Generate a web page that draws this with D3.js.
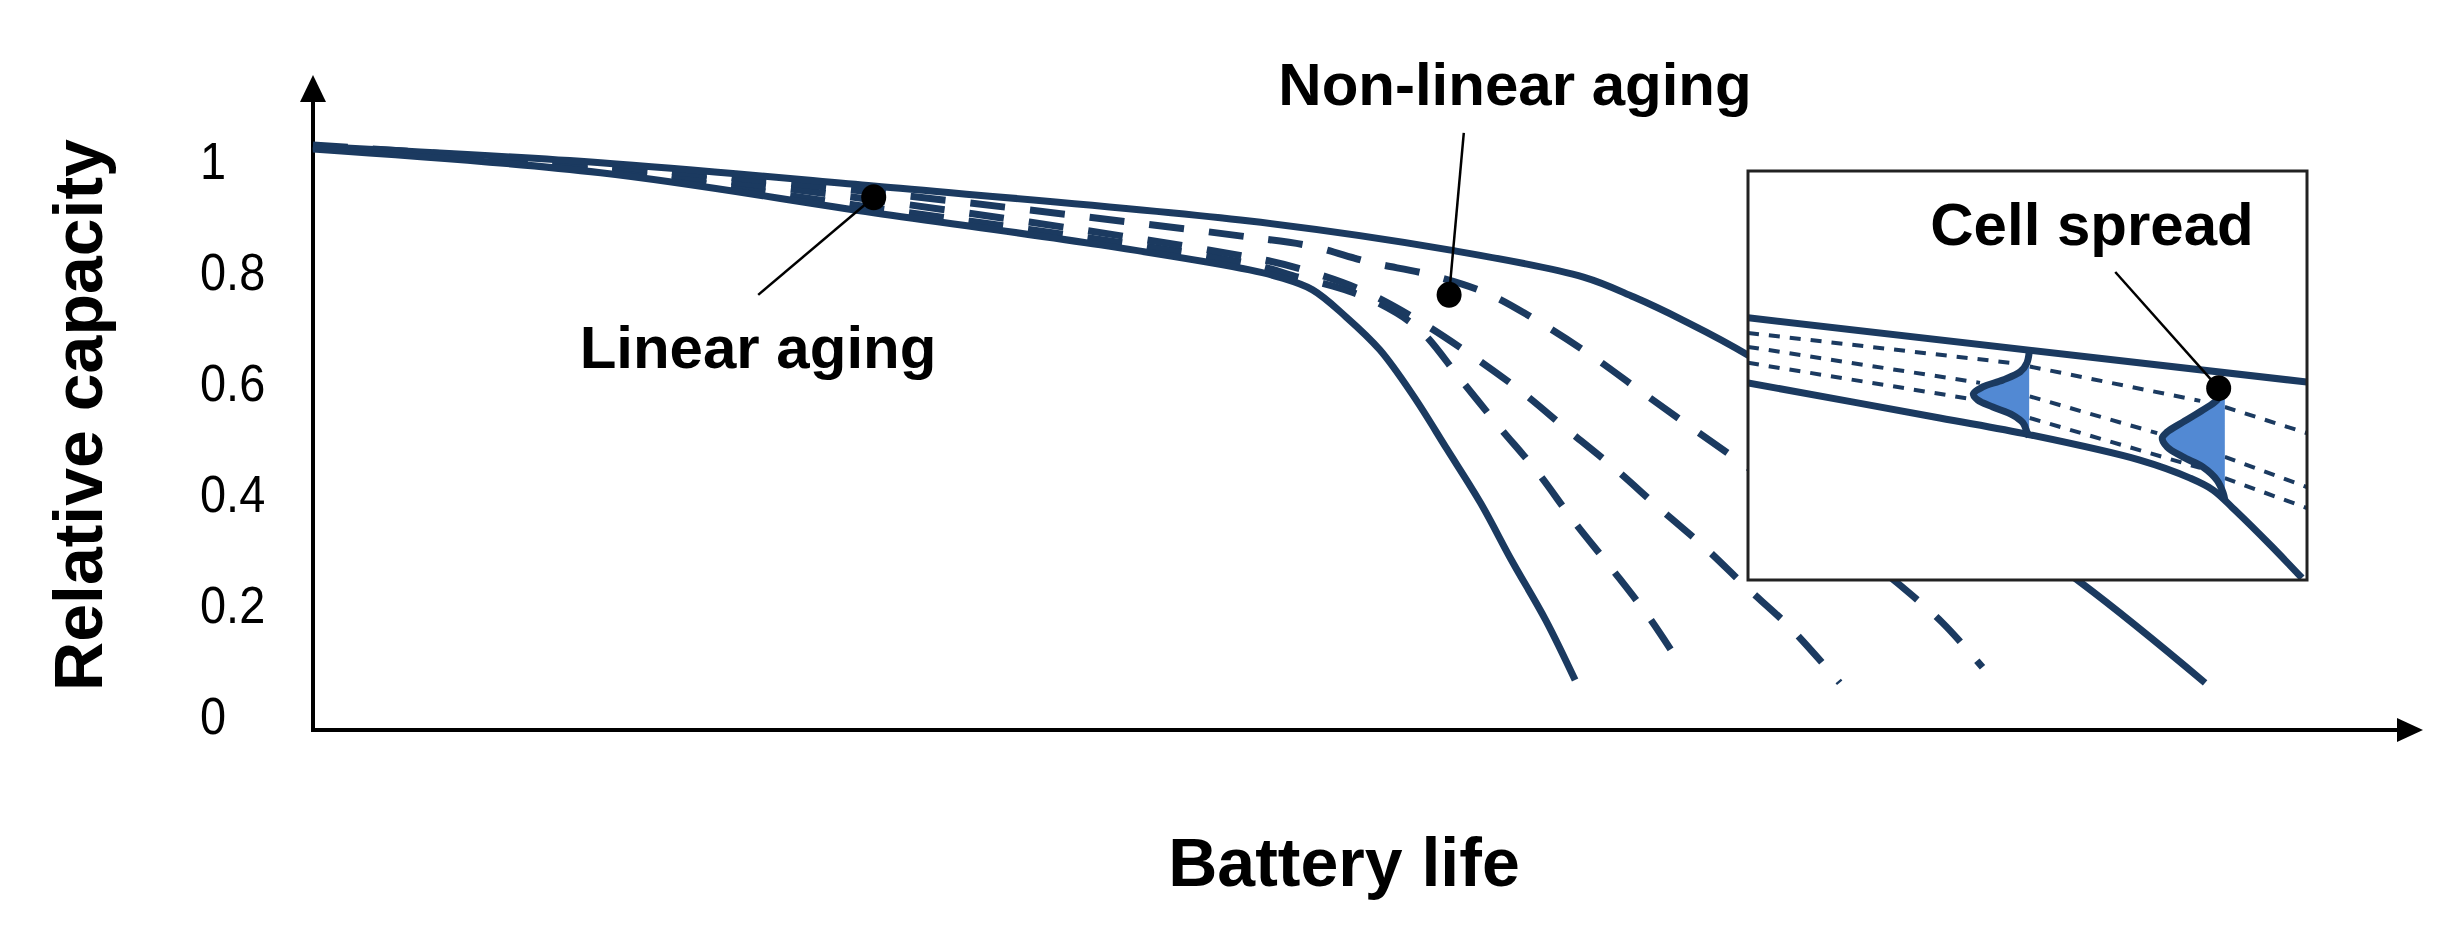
<!DOCTYPE html>
<html>
<head>
<meta charset="utf-8">
<script src="https://cdn.jsdelivr.net/npm/d3@7"></script>
<style>
  body { margin: 0; background: #fff; }
  svg { display: block; }
</style>
</head>
<body>
<script>
'use strict';

(function() {

const width = 2448;
const height = 935;

// ---- data (battery life in arbitrary units 0..100, relative capacity 0..1) ----
const yTickValues = [0, 0.2, 0.4, 0.6, 0.8, 1];
const yTickLabels = ['0', '0.2', '0.4', '0.6', '0.8', '1'];

const upperSolid = [[0, 1.025], [13.7, 0.995], [26.7, 0.953], [44.6, 0.890], [54.1, 0.838],
  [60.5, 0.789], [62.9, 0.753], [65.2, 0.712], [68.3, 0.649], [75.6, 0.465], [84.2, 0.238], [90.1, 0.058]];
const lowerSolid = [[0, 1.020], [13.7, 0.977], [26.7, 0.905], [37.5, 0.847], [44.6, 0.802], [46.0, 0.789],
  [47.6, 0.766], [49.2, 0.717], [50.8, 0.658], [52.4, 0.575], [54.0, 0.479], [55.6, 0.382],
  [57.1, 0.277], [58.7, 0.171], [60.1, 0.063]];
const dashedEarly = [[0, 1.023], [13.7, 0.981], [26.7, 0.914], [44.6, 0.813], [47.0, 0.788], [48.9, 0.769],
  [50.8, 0.741], [52.7, 0.694], [54.6, 0.607], [56.4, 0.523], [58.3, 0.438], [60.0, 0.351],
  [61.9, 0.261], [63.6, 0.177], [65.2, 0.086]];
const dashedMid = [[0, 1.025], [13.7, 0.986], [26.7, 0.928], [44.6, 0.825], [47.0, 0.804], [49.9, 0.766],
  [52.5, 0.714], [55.1, 0.650], [57.5, 0.584], [59.7, 0.515], [61.9, 0.447], [64.1, 0.373],
  [66.3, 0.301], [68.2, 0.232], [70.3, 0.159], [72.7, 0.058]];
const dashedLate = [[0, 1.027], [13.7, 0.990], [26.7, 0.942], [44.6, 0.861], [47.5, 0.845], [50.3, 0.816],
  [53.2, 0.793], [55.9, 0.760], [58.4, 0.708], [60.9, 0.647], [63.2, 0.584], [65.6, 0.519],
  [68.3, 0.447], [71.8, 0.350], [75.1, 0.249], [77.6, 0.166], [79.5, 0.086]];

const linearDot = [26.7, 0.933];
const linearLabelEnd = [21.2, 0.757];
const nonLinearDot = [54.1, 0.757];
const nonLinearLabelEnd = [54.8, 1.049];

// inset (zoomed view, both axes 0..100)
const insetUpper = [[0, 64.1], [100, 48.4]];
const insetLower = [[0, 48.2], [34.3, 39.6], [50.4, 35.5], [70.1, 29.3], [79.1, 24.9],
  [83.2, 22.0], [87.1, 17.1], [93.4, 8.6], [99.1, 0.5]];
const insetDashed = [
  [[0, 60.4], [46.9, 53.1]],
  [[0, 57.0], [41.5, 48.2]],
  [[0, 53.1], [41.1, 44.0]],
  [[50.4, 52.2], [80.9, 43.8]],
  [[50.4, 44.9], [73.2, 35.9]],
  [[50.4, 39.6], [80.9, 27.4]],
  [[85.3, 42.3], [100, 35.9]],
  [[85.3, 30.1], [100, 22.7]],
  [[85.3, 24.9], [100, 17.6]]
];
const spreadEarly = [[50.3, 55.7], [49.9, 53.1], [48.7, 50.9], [45.6, 48.9], [42.0, 47.2], [40.3, 45.5],
  [41.1, 44.0], [43.8, 42.3], [47.4, 40.3], [49.2, 38.4], [49.9, 36.2], [50.3, 35.0]];
const spreadLate = [[84.8, 46.0], [83.9, 44.0], [81.4, 41.6], [77.8, 38.6], [75.0, 36.2], [74.1, 34.7],
  [75.0, 32.5], [77.8, 30.1], [81.4, 27.6], [83.9, 24.4], [85.0, 21.3], [85.3, 19.6]];
const spreadEarlyBase = 50.3;
const spreadLateBase = 85.3;
const cellDot = [84.2, 46.9];
const cellLabelEnd = [65.7, 75.3];

// ---- layout ----
const navy = '#1b3a60';
const fillBlue = '#5289d3';
const font = '"Liberation Sans", Arial, sans-serif';

const x = d3.scaleLinear().domain([0, 100]).range([313, 2413]);
const y = d3.scaleLinear().domain([0, 1]).range([715, 160]);

const inset = { x0: 1748, x1: 2307, y0: 171, y1: 580 };
const ix = d3.scaleLinear().domain([0, 100]).range([inset.x0, inset.x1]);
const iy = d3.scaleLinear().domain([0, 100]).range([inset.y1, inset.y0]);

const axisX = 313, axisY = 730, axisTop = 75, axisRight = 2423;

let svg = d3.select('body').append('svg')
    .attr('width', width)
    .attr('height', height);

// axes with arrows
svg.append('line')
    .attr('x1', axisX).attr('y1', axisY + 2)
    .attr('x2', axisX).attr('y2', axisTop + 20)
    .attr('stroke', '#000').attr('stroke-width', 4);
svg.append('path')
    .attr('d', `M${axisX},${axisTop} L${axisX - 13},${axisTop + 27} L${axisX + 13},${axisTop + 27} Z`)
    .attr('fill', '#000');
svg.append('line')
    .attr('x1', axisX - 2).attr('y1', axisY)
    .attr('x2', axisRight - 20).attr('y2', axisY)
    .attr('stroke', '#000').attr('stroke-width', 4);
svg.append('path')
    .attr('d', `M${axisRight},${axisY} L${axisRight - 26},${axisY - 12} L${axisRight - 26},${axisY + 12} Z`)
    .attr('fill', '#000');

// tick labels
let yAxis = d3.axisLeft(y)
    .tickValues(yTickValues)
    .tickFormat((d, i) => yTickLabels[i])
    .tickSize(0);

let gy = svg.append('g')
    .attr('transform', 'translate(200,0)')
    .call(yAxis);
gy.select('.domain').remove();
gy.attr('font-family', font).attr('font-size', 51);
gy.selectAll('text')
    .attr('x', 0)
    .attr('dy', '0.36em')
    .attr('text-anchor', 'start')
    .attr('transform', 'scale(0.92,1)')
    .attr('fill', '#000');

// axis titles
svg.append('text')
    .attr('transform', 'translate(102,415) rotate(-90)')
    .attr('text-anchor', 'middle')
    .style('font-family', font)
    .style('font-weight', 'bold')
    .style('font-size', '68px')
    .text('Relative capacity');

svg.append('text')
    .attr('x', 1344).attr('y', 886)
    .attr('text-anchor', 'middle')
    .style('font-family', font)
    .style('font-weight', 'bold')
    .style('font-size', '68px')
    .text('Battery life');

// main curves
let line = d3.line()
    .x(d => x(d[0]))
    .y(d => y(d[1]))
    .curve(d3.curveCatmullRom.alpha(0.5));

let curves = svg.append('g').attr('fill', 'none').attr('stroke', navy);

[dashedEarly, dashedMid, dashedLate].forEach(function (d) {
    curves.append('path')
        .attr('d', line(d))
        .attr('stroke-width', 7)
        .attr('stroke-dasharray', '35,25');
});
[upperSolid, lowerSolid].forEach(function (d) {
    curves.append('path')
        .attr('d', line(d))
        .attr('stroke-width', 7);
});

// annotations in main plot
function pointer(g, from, to, sx, sy) {
    g.append('line')
        .attr('x1', sx(from[0])).attr('y1', sy(from[1]))
        .attr('x2', sx(to[0])).attr('y2', sy(to[1]))
        .attr('stroke', '#000').attr('stroke-width', 2.5);
    g.append('ellipse')
        .attr('cx', sx(from[0])).attr('cy', sy(from[1]))
        .attr('rx', 12.5).attr('ry', 13)
        .attr('fill', '#000');
}

let notes = svg.append('g');
pointer(notes, linearDot, linearLabelEnd, x, y);
pointer(notes, nonLinearDot, nonLinearLabelEnd, x, y);

notes.append('text')
    .attr('x', 758).attr('y', 368)
    .attr('text-anchor', 'middle')
    .style('font-family', font).style('font-weight', 'bold').style('font-size', '60px')
    .text('Linear aging');
notes.append('text')
    .attr('x', 1515).attr('y', 105)
    .attr('text-anchor', 'middle')
    .style('font-family', font).style('font-weight', 'bold').style('font-size', '60px')
    .text('Non-linear aging');

// inset
let gi = svg.append('g');
gi.append('clipPath').attr('id', 'inset-clip')
  .append('rect')
    .attr('x', inset.x0).attr('y', inset.y0)
    .attr('width', inset.x1 - inset.x0).attr('height', inset.y1 - inset.y0);

gi.append('rect')
    .attr('x', inset.x0).attr('y', inset.y0)
    .attr('width', inset.x1 - inset.x0).attr('height', inset.y1 - inset.y0)
    .attr('fill', '#fff');

let inner = gi.append('g').attr('clip-path', 'url(#inset-clip)');

let iline = d3.line()
    .x(d => ix(d[0]))
    .y(d => iy(d[1]))
    .curve(d3.curveCatmullRom.alpha(0.5));

insetDashed.forEach(function (d) {
    inner.append('path')
        .attr('d', iline(d))
        .attr('fill', 'none')
        .attr('stroke', navy)
        .attr('stroke-width', 4)
        .attr('stroke-dasharray', '11,10');
});

inner.append('path')
    .attr('d', iline(insetUpper))
    .attr('fill', 'none').attr('stroke', navy).attr('stroke-width', 7);
inner.append('path')
    .attr('d', iline(insetLower))
    .attr('fill', 'none').attr('stroke', navy).attr('stroke-width', 7);

function spread(pts, base) {
    let area = d3.area()
        .y(d => iy(d[1]))
        .x0(d => ix(d[0]))
        .x1(ix(base))
        .curve(d3.curveCatmullRom.alpha(0.5));
    inner.append('path')
        .attr('d', area(pts))
        .attr('fill', fillBlue);
    inner.append('path')
        .attr('d', iline(pts))
        .attr('fill', 'none')
        .attr('stroke', navy)
        .attr('stroke-width', 7)
        .attr('stroke-linejoin', 'round');
}
spread(spreadEarly, spreadEarlyBase);
spread(spreadLate, spreadLateBase);

pointer(gi, cellDot, cellLabelEnd, ix, iy);

gi.append('text')
    .attr('x', 2092).attr('y', 245)
    .attr('text-anchor', 'middle')
    .style('font-family', font).style('font-weight', 'bold').style('font-size', '60px')
    .text('Cell spread');

gi.append('rect')
    .attr('x', inset.x0).attr('y', inset.y0)
    .attr('width', inset.x1 - inset.x0).attr('height', inset.y1 - inset.y0)
    .attr('fill', 'none')
    .attr('stroke', '#222')
    .attr('stroke-width', 3);

})();
</script>
</body>
</html>
